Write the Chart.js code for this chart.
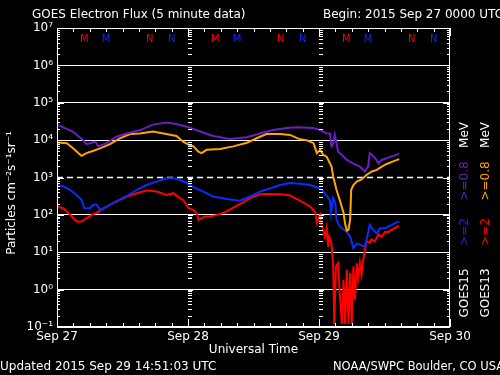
<!DOCTYPE html>
<html>
<head>
<meta charset="utf-8">
<title>GOES Electron Flux</title>
<script src="https://cdn.jsdelivr.net/npm/chart.js@4.4.0/dist/chart.umd.min.js"></script>
<style>
    html, body { margin: 0; padding: 0; background: #000; }
    #wrap { width: 500px; height: 375px; }
</style>
</head>
<body>
<div id="wrap"><canvas id="fluxChart" width="500" height="375"></canvas></div>
<script>
// GOES electron flux, 5 minute data (hours since Sep 27 00 UTC)
const FONT = '"DejaVu Sans", sans-serif';

const purpleHours = [0, 2.9, 4.8, 5.4, 6.4, 7.0, 7.6, 9.1, 10.9, 12.8, 15.2, 17.6, 20.1, 21.9, 24.4, 26.2, 28.6, 31.7, 34.8, 37.2, 39.6, 42.1, 43.9, 46.9, 48.2, 49.4, 50.0, 50.3, 50.6, 50.9, 51.5, 52.2, 53.1, 54.2, 55.5, 56.4, 57.0, 57.3, 58.3, 58.9, 59.5, 60.4, 61.6, 62.7];
const purpleFlux = [2.6e4, 1.7e4, 1.0e4, 7.8e3, 8.5e3, 9.1e3, 6.8e3, 8.3e3, 1.23e4, 1.5e4, 1.86e4, 2.6e4, 2.95e4, 2.7e4, 2.15e4, 1.7e4, 1.29e4, 1.07e4, 1.2e4, 1.5e4, 1.86e4, 2.1e4, 2.2e4, 2.1e4, 1.86e4, 1.5e4, 1.5e4, 6.8e3, 8e3, 1.38e4, 4.9e3, 4.0e3, 2.95e3, 2.4e3, 1.95e3, 1.45e3, 1.95e3, 4.5e3, 3.3e3, 2.4e3, 2.95e3, 3.3e3, 3.8e3, 4.3e3];

const orangeHours = [0, 1.8, 3.0, 3.9, 4.5, 5.4, 6.7, 7.9, 9.7, 11.5, 13.4, 15.2, 17.6, 19.5, 21.9, 23.1, 24.1, 25.0, 25.9, 26.5, 27.4, 29.9, 32.3, 34.8, 37.2, 38.4, 40.9, 42.7, 44.5, 45.7, 47.0, 47.6, 48.2, 48.8, 49.4, 50.0, 50.3, 50.6, 50.9, 51.2, 51.8, 52.5, 52.8, 53.1, 53.4, 53.7, 53.9, 54.3, 54.9, 55.8, 56.7, 57.7, 58.6, 59.5, 60.4, 61.6, 62.7];
const orangeFlux = [8.7e3, 8.3e3, 6.0e3, 4.5e3, 3.8e3, 4.5e3, 5.2e3, 6.0e3, 7.8e3, 1.12e4, 1.45e4, 1.5e4, 1.7e4, 1.5e4, 1.29e4, 9.1e3, 7.6e3, 6.8e3, 4.9e3, 4.5e3, 5.5e3, 5.8e3, 6.8e3, 8.5e3, 1.23e4, 1.45e4, 1.45e4, 1.38e4, 1.05e4, 1.0e4, 8.3e3, 4.5e3, 5.5e3, 4.0e3, 3.6e3, 2.4e3, 1.95e3, 1.05e3, 710, 470, 250, 112, 56, 38, 40, 74, 470, 630, 780, 890, 1.17e3, 1.45e3, 1.6e3, 1.95e3, 2.3e3, 2.7e3, 3.1e3];

const blueHours = [0, 1.2, 2.4, 3.6, 4.5, 5.0, 6.0, 6.7, 7.3, 7.9, 9.1, 10.9, 12.8, 14.6, 16.4, 18.3, 20.1, 21.3, 22.5, 23.8, 25.0, 26.8, 28.6, 31.1, 33.5, 35.4, 37.2, 39.0, 40.9, 42.7, 44.5, 46.4, 47.6, 48.5, 49.4, 50.0, 50.2, 50.6, 51.0, 51.2, 51.8, 53.1, 53.7, 54.3, 54.9, 55.5, 56.4, 56.7, 57.3, 57.9, 58.6, 59.2, 60.1, 61.0, 61.9, 62.7];
const blueFlux = [630, 575, 470, 340, 250, 150, 150, 186, 186, 135, 166, 230, 320, 470, 630, 780, 950, 950, 870, 710, 550, 420, 310, 265, 240, 310, 420, 510, 630, 710, 680, 630, 550, 470, 330, 250, 112, 280, 205, 74, 49, 35, 26, 13, 17, 16, 14, 21, 54, 40, 32, 44, 44, 51, 60, 66];

const redHours = [0, 1.2, 2.1, 3.0, 3.6, 4.5, 5.4, 6.4, 7.3, 9.1, 10.9, 12.8, 14.6, 16.4, 18.3, 20.1, 21.3, 22.5, 23.1, 23.8, 24.1, 25.0, 25.6, 25.9, 26.5, 27.1, 28.0, 29.3, 30.5, 31.7, 33.5, 35.4, 37.2, 39.0, 40.9, 42.7, 44.5, 46.4, 47.3, 47.6, 48.2, 48.5, 48.8, 49.1, 49.4, 49.7, 49.9, 50.3, 50.6, 50.8, 51.1, 51.5, 51.8, 52.2, 52.5, 52.8, 53.1, 53.4, 53.7, 54.0, 54.3, 54.6, 54.9, 55.2, 55.5, 55.8, 56.1, 56.4, 56.7, 57.3, 57.6, 58.2, 58.9, 59.5, 60.1, 60.7, 61.6, 62.2, 62.7];
const redFlux = [166, 150, 112, 81, 66, 66, 81, 100, 115, 166, 230, 310, 380, 450, 420, 340, 380, 280, 250, 178, 150, 135, 112, 74, 81, 91, 91, 100, 112, 141, 195, 280, 355, 363, 355, 330, 240, 166, 117, 63, 100, 49, 40, 25, 44, 14, 26, 17, 4.2, 0.12, 4.2, 5.1, 0.8, 0.12, 1.8, 0.12, 3.4, 0.12, 2.8, 0.12, 4.2, 0.54, 5.1, 2.2, 5.1, 2.5, 6.3, 11.5, 19.5, 18, 22, 19.5, 30, 26, 35, 35, 42, 47, 51];

// 1000 pfu alert threshold (dashed)
const thresholdHours = [0, 72];
const thresholdFlux = [1e3, 1e3];

// axes
const xTickValues = [0, 24, 48, 72];
const xTickLabels = ['Sep 27', 'Sep 28', 'Sep 29', 'Sep 30'];
const yTickValues = [1e-1, 1e0, 1e1, 1e2, 1e3, 1e4, 1e5, 1e6, 1e7];
const yTickLabels = ['10⁻¹', '10⁰', '10¹', '10²', '10³', '10⁴', '10⁵', '10⁶', '10⁷'];

// local midnight / noon markers (red = GOES13, blue = GOES15)
const markerHours = [5, 9, 17, 21, 29, 33, 41, 45, 53, 57, 65, 69];
const markerText = ['M', 'M', 'N', 'N', 'M', 'M', 'N', 'N', 'M', 'M', 'N', 'N'];
const markerColor = ['#ff0000', '#0a2cff', '#ff0000', '#0a2cff', '#ff0000', '#0a2cff', '#ff0000', '#0a2cff', '#ff0000', '#0a2cff', '#ff0000', '#0a2cff'];

const COLORS = { purple: '#6a1fc0', orange: '#ffa500', blue: '#0a2cff', red: '#ff0000' };

const toPoints = (hours, flux) => hours.map((h, i) => ({ x: h, y: flux[i] }));

function line(ctx, x1, y1, x2, y2) {
    ctx.beginPath();
    ctx.moveTo(x1, y1);
    ctx.lineTo(x2, y2);
    ctx.stroke();
}

// ===== Decorations: background, frame, inner ticks, texts =====
const goesDecor = {
    id: 'goesDecor',
    beforeDraw(chart) {
        const ctx = chart.ctx;
        ctx.save();
        ctx.fillStyle = '#000';
        ctx.fillRect(0, 0, chart.width, chart.height);
        ctx.restore();
    },
    afterDatasetsDraw(chart) {
        const { ctx, chartArea: a } = chart;
        const xs = chart.scales.x, ys = chart.scales.y;
        ctx.save();
        ctx.strokeStyle = '#fff';
        ctx.lineWidth = 1;

        // frame
        ctx.strokeRect(a.left + 0.5, a.top + 0.5, a.width - 1, a.height - 1);

        // 3-hour ticks on bottom and top
        for (let h = 0; h <= 72; h += 3) {
            const px = Math.round(xs.getPixelForValue(h)) + 0.5;
            const len = h % 24 === 0 ? 8 : 4;
            line(ctx, px, a.bottom, px, a.bottom - len);
            line(ctx, px, a.top, px, a.top + len);
        }

        // log ticks on left/right axis and at day boundaries
        for (let e = -1; e < 7; e++) {
            for (let m = 1; m < 10; m++) {
                const v = m * Math.pow(10, e);
                const py = Math.round(ys.getPixelForValue(v)) + 0.5;
                const len = m === 1 ? 7 : 3;
                line(ctx, a.left, py, a.left + len, py);
                line(ctx, a.right, py, a.right - len, py);
                [24, 48].forEach(h => {
                    const px = Math.round(xs.getPixelForValue(h));
                    line(ctx, px, py, px + (m === 1 ? 5 : 4), py);
                });
            }
        }

        ctx.fillStyle = '#fff';
        ctx.textBaseline = 'middle';

        // title line
        ctx.font = '12px ' + FONT;
        ctx.textAlign = 'left';
        ctx.fillText('GOES Electron Flux (5 minute data)', 32, 15);
        ctx.fillText('Begin: 2015 Sep 27 0000 UTC', 323, 15);

        // footer
        ctx.fillText('Updated 2015 Sep 29 14:51:03 UTC', 0, 367);
        ctx.font = '11.5px ' + FONT;
        ctx.fillText('NOAA/SWPC Boulder, CO USA', 333, 367);

        // M / N markers
        ctx.font = '10px ' + FONT;
        ctx.textAlign = 'center';
        markerHours.forEach((h, i) => {
            ctx.fillStyle = markerColor[i];
            ctx.fillText(markerText[i], xs.getPixelForValue(h), 39);
        });

        // y axis title (rotated)
        ctx.fillStyle = '#fff';
        ctx.font = '12px ' + FONT;
        ctx.save();
        ctx.translate(12, 193);
        ctx.rotate(-Math.PI / 2);
        ctx.fillText('Particles cm⁻²s⁻¹sr⁻¹', 0, 0);
        ctx.restore();

        // legend columns (rotated)
        const legend = [
            { x: 465, items: [['GOES15', '#fff', 293], ['>=2', COLORS.blue, 232], ['>=0.8', COLORS.purple, 181], ['MeV', '#fff', 135]] },
            { x: 486, items: [['GOES13', '#fff', 293], ['>=2', COLORS.red, 232], ['>=0.8', COLORS.orange, 181], ['MeV', '#fff', 135]] }
        ];
        legend.forEach(col => {
            col.items.forEach(([txt, color, y]) => {
                ctx.save();
                ctx.translate(col.x, y);
                ctx.rotate(-Math.PI / 2);
                ctx.fillStyle = color;
                ctx.fillText(txt, 0, 0);
                ctx.restore();
            });
        });
        ctx.restore();
    }
};

// ===== Chart =====
const ctx = document.getElementById('fluxChart').getContext('2d');
new Chart(ctx, {
    type: 'line',
    data: {
        datasets: [
            { label: 'GOES15 >=0.8 MeV', data: toPoints(purpleHours, purpleFlux), borderColor: COLORS.purple, borderWidth: 2, pointRadius: 0 },
            { label: 'GOES13 >=0.8 MeV', data: toPoints(orangeHours, orangeFlux), borderColor: COLORS.orange, borderWidth: 2, pointRadius: 0 },
            { label: 'GOES15 >=2 MeV', data: toPoints(blueHours, blueFlux), borderColor: COLORS.blue, borderWidth: 2, pointRadius: 0 },
            { label: 'GOES13 >=2 MeV', data: toPoints(redHours, redFlux), borderColor: COLORS.red, borderWidth: 2, pointRadius: 0 },
            { label: 'threshold', data: toPoints(thresholdHours, thresholdFlux), borderColor: '#fff', borderWidth: 1.5, borderDash: [6, 4], pointRadius: 0 }
        ]
    },
    options: {
        responsive: false,
        animation: false,
        devicePixelRatio: 1,
        layout: { padding: { top: 28, right: 50, bottom: 18, left: 0 } },
        plugins: { legend: { display: false }, tooltip: { enabled: false } },
        scales: {
            x: {
                type: 'linear', min: 0, max: 72,
                afterFit: s => { s.height = 30; },
                afterBuildTicks: s => { s.ticks = xTickValues.map(v => ({ value: v })); },
                ticks: { color: '#fff', font: { family: FONT, size: 12 }, padding: 3, maxRotation: 0, callback: (v, i) => xTickLabels[i] },
                grid: { display: false, drawTicks: false },
                border: { display: false },
                title: { display: true, text: 'Universal Time', color: '#fff', font: { family: FONT, size: 12 }, padding: 0 }
            },
            y: {
                type: 'logarithmic', min: 0.1, max: 1e7,
                afterFit: s => { s.width = 57; },
                afterBuildTicks: s => { s.ticks = yTickValues.map(v => ({ value: v })); },
                ticks: { color: '#fff', font: { family: FONT, size: 12 }, padding: 4, callback: (v, i) => yTickLabels[i] },
                grid: { drawTicks: false, color: c => (c.tick && c.tick.value === 1e3) ? 'rgba(0,0,0,0)' : '#fff', lineWidth: 1 },
                border: { display: false }
            }
        }
    },
    plugins: [goesDecor]
});
</script>
</body>
</html>
